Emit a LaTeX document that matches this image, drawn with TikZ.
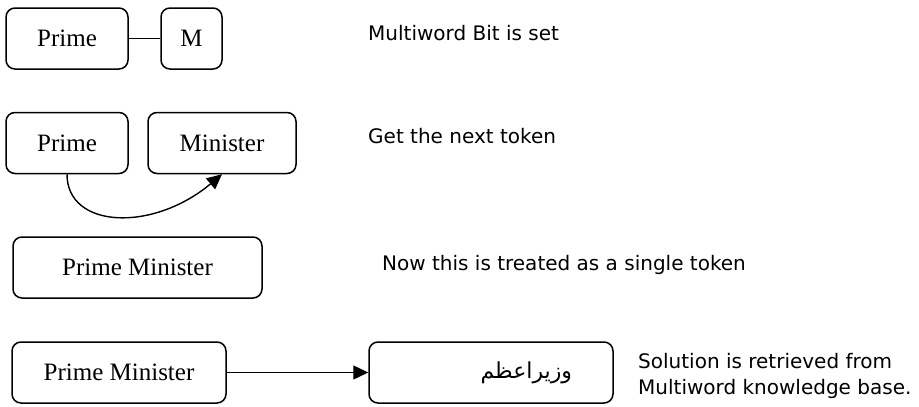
\documentclass[tikz,border=0pt]{standalone}
\usepackage{fontspec}
\setmainfont{Liberation Serif}
\newfontfamily\notefont{DejaVu Sans}
\newfontfamily\arabicfont[Script=Arabic]{DejaVu Sans}
\TeXXeTstate=1
\usetikzlibrary{arrows.meta,positioning}

\begin{document}
\begin{tikzpicture}[x=1pt,y=-1pt]
\tikzstyle{every node}+=[inner sep=0pt]
\tikzstyle{word}=[draw, line width=1.5pt, rounded corners=9pt, minimum height=61pt, font=\fontsize{25}{30}\selectfont]
\tikzstyle{note}=[anchor=base west, align=left, font=\notefont\fontsize{20}{26}\selectfont]
\tikzstyle{link}=[line width=1.4pt]
\tikzstyle{tip}=[-{Triangle[length=15pt,width=14pt]}]
\useasboundingbox (0,0) rectangle (919,407);
% multiword bit
\node [word, minimum width=122pt] (prime1) at (67,38.5) {Prime};
\node [word, minimum width=61pt] (m1) at (191.5,38.5) {M};
\draw [link] (prime1) -- (m1);
\node [note] (bitset) at (368,40) {Multiword Bit is set};
% next token
\node [word, minimum width=122pt] (prime2) at (67,143) {Prime};
\node [word, minimum width=148pt] (minister2) at (222,143) {Minister};
\draw [link, tip] (prime2.south) to [out=-90, in=-140, out looseness=0.9, in looseness=1.5] (minister2.south);
\node [note] (nexttok) at (368,143) {Get the next token};
% single token
\node [word, minimum width=249pt] (pm3) at (137.5,267.5) {Prime Minister};
\node [note] (single) at (382,270) {Now this is treated as a single token};
% lookup
\node [word, minimum width=214pt] (pm4) at (119,372.5) {Prime Minister};
\node [word, minimum width=244pt, text width=162pt, align=right, inner xsep=41pt,
  font=\arabicfont\fontsize{22}{26}\selectfont] (urdu) at (491,372.5) {\beginR وزيراعظم\endR};
\draw [link, tip] (pm4) -- (urdu);
\node [note] (solution) at (638,394) {Solution is retrieved from\\Multiword knowledge base.};
\end{tikzpicture}
\end{document}
